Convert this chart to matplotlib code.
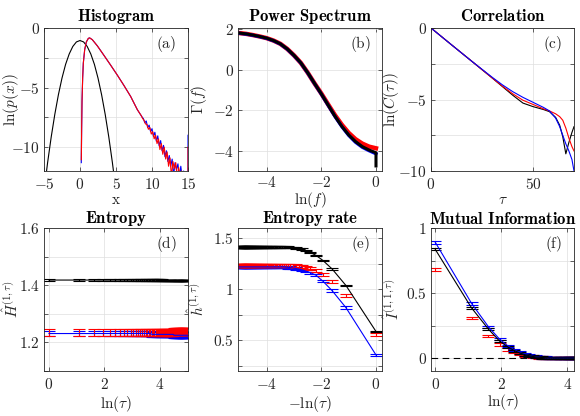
import matplotlib
matplotlib.use("Agg")
import matplotlib.pyplot as plt
import numpy as np
from matplotlib.ticker import FuncFormatter, FixedLocator

plt.rcParams['mathtext.fontset'] = 'cm'
plt.rcParams['font.family'] = 'serif'

# ---- (a) Histogram ----
hist_black_x = [-4.75, -4.5, -4, -3.5, -3, -2.5, -2, -1.5, -1, -0.5, 0, 0.5, 1, 1.5, 2, 2.5, 3, 3.5, 4, 4.5, 4.75]
hist_black_y = [-12.5, -11.3, -9.15, -7.25, -5.6, -4.2, -3.05, -2.18, -1.55, -1.17, -1.05, -1.17, -1.55, -2.18, -3.05, -4.2, -5.6, -7.25, -9.15, -11.3, -12.5]

hist_red_x = [0.185, 0.23, 0.28, 0.37, 0.46, 0.65, 0.88, 1.16, 1.34, 1.71, 2.41, 3.33, 4.26, 5.19, 6.11, 7.04, 7.96,
              8.5, 8.7, 8.9, 9.1, 9.3, 9.5, 9.7, 9.9, 10.1, 10.3, 10.5, 10.7, 10.9, 11.1, 11.3, 11.5, 11.7, 11.9,
              12.1, 12.3, 12.5, 12.7, 12.9, 13.1, 13.3, 13.5, 13.7, 13.9, 14.1, 14.3, 14.5, 14.7, 14.9, 15.0, 15.0]
hist_red_y = [-11.05, -8.4, -6.15, -4.2, -2.95, -1.82, -1.17, -0.87, -0.83, -0.98, -1.5, -2.3, -3.12, -3.96, -4.83, -5.75, -6.85,
              -7.35, -7.6, -7.75, -8.05, -8.1, -8.5, -8.35, -8.9, -8.7, -9.3, -9.0, -9.7, -9.3, -10.2, -9.7, -10.6, -10.0, -11.0,
              -10.4, -11.6, -10.9, -12.5, -11.2, -11.8, -11.3, -12.6, -11.7, -12.6, -12.0, -12.8, -12.2, -12.9, -12.9, -12.9, -10.0]

hist_blue_x = [0.18, 0.23, 0.28, 0.37, 0.46, 0.65, 0.88, 1.16, 1.34, 1.71, 2.41, 3.33, 4.26, 5.19, 6.11, 7.04, 7.96,
               8.6, 8.8, 9.0, 9.2, 9.4, 9.6, 9.8, 10.0, 10.2, 10.4, 10.6, 10.8, 11.0, 11.2, 11.4, 11.6, 11.8, 12.0,
               12.2, 12.4, 12.6, 12.8, 13.0, 13.2, 13.4, 13.6, 13.8, 14.0, 14.2, 14.4, 14.6, 14.8, 15.0, 15.0]
hist_blue_y = [-11.3, -8.4, -6.15, -4.2, -2.95, -1.82, -1.17, -0.87, -0.83, -0.98, -1.5, -2.3, -3.12, -3.96, -4.83, -5.75, -6.85,
               -7.45, -7.6, -7.95, -7.8, -8.35, -8.15, -8.7, -8.45, -9.1, -8.75, -9.5, -9.05, -9.9, -9.45, -10.3, -9.85, -10.8, -10.3,
               -11.2, -10.7, -11.6, -11.0, -12.4, -11.3, -11.9, -11.4, -12.5, -11.6, -12.6, -12.0, -12.8, -12.9, -12.9, -9.0]

# ---- (b) Power spectrum ----
spec_x = [-5.0, -4.75, -4.5, -4.25, -4.0, -3.75, -3.5, -3.25, -3.0, -2.75, -2.5, -2.25, -2.0, -1.75, -1.5, -1.25, -1.0, -0.75, -0.5, -0.25, 0.0]
spec_black = [1.80, 1.76, 1.70, 1.63, 1.55, 1.43, 1.27, 1.02, 0.70, 0.33, -0.15, -0.68, -1.20, -1.75, -2.30, -2.80, -3.22, -3.55, -3.80, -3.97, -4.10]
spec_red = [1.80, 1.76, 1.70, 1.63, 1.55, 1.43, 1.27, 1.02, 0.70, 0.33, -0.15, -0.68, -1.18, -1.72, -2.25, -2.72, -3.12, -3.43, -3.65, -3.80, -3.88]
spec_blue = [1.79, 1.75, 1.69, 1.62, 1.54, 1.42, 1.26, 1.01, 0.69, 0.32, -0.16, -0.69, -1.21, -1.76, -2.31, -2.81, -3.24, -3.58, -3.83, -4.0, -4.15]

# ---- (c) Correlation ----
corr_x = [0, 10, 20, 30, 35, 40, 45, 50, 55, 58, 61, 63, 64.5, 66, 67.5, 69, 70]
corr_black = [0, -1.17, -2.33, -3.5, -4.1, -4.7, -5.25, -5.5, -5.7, -5.85, -6.25, -6.8, -7.6, -8.8, -8.0, -7.3, -6.9]
corr_red = [0, -1.17, -2.33, -3.5, -4.07, -4.6, -5.05, -5.35, -5.65, -5.8, -6.0, -6.2, -6.45, -7.0, -7.7, -8.3, -8.6]
corr_blue = [0, -1.17, -2.33, -3.45, -3.98, -4.45, -4.85, -5.2, -5.55, -5.8, -6.3, -6.9, -7.5, -8.1, -8.6, -9.2, -10.0]

# ---- (d)-(f) vs tau ----
tau = list(range(1, 150, 2))

H_black = [1.418] * 30 + [1.417] * 20 + [1.416] * 15 + [1.415] * 10
H_red = [1.234] * 20 + [1.236] * 25 + [1.238] * 30
H_blue = [1.231] * 20 + [1.228] * 25 + [1.225] * 30

h_black = [0.587, 1.037, 1.20, 1.283, 1.332, 1.36, 1.38, 1.393, 1.400, 1.405, 1.408, 1.41, 1.411] + [1.412] * 62
h_red = [0.561, 0.94, 1.073, 1.144, 1.183, 1.20, 1.212, 1.22, 1.225, 1.228, 1.23] + [1.232] * 64
h_blue = [0.357, 0.82, 0.988, 1.08, 1.138, 1.162, 1.178, 1.19, 1.198, 1.204, 1.208, 1.212, 1.215, 1.217] + [1.219] * 61

I_black = [0.835, 0.385, 0.222, 0.13, 0.085, 0.056, 0.038, 0.026, 0.018, 0.012, 0.008, 0.006, 0.004, 0.003, 0.002, 0.001] + [0.0] * 59
I_blue = [0.89, 0.42, 0.24, 0.145, 0.093, 0.062, 0.042, 0.029, 0.02, 0.014, 0.01, 0.007, 0.005, 0.003, 0.002, 0.001] + [0.0] * 59
I_red = [0.68, 0.307, 0.17, 0.105, 0.067, 0.045, 0.03, 0.02, 0.014, 0.01, 0.007, 0.005, 0.003, 0.002, 0.001] + [0.0] * 60

err_H = {'k': 0.002, 'r': 0.012, 'b': 0.01}
err_h = {'k': 0.008, 'r': 0.015, 'b': 0.012}
err_I = {'k': 0.008, 'r': 0.01, 'b': 0.01}

fig = plt.figure(figsize=(5.8, 4.16), dpi=100)
W, Hh = 580, 416
def add_ax(l, t, w, h):
    return fig.add_axes([l / W, (Hh - t - h) / Hh, w / W, h / Hh])

ax_a = add_ax(44, 28, 144, 143)
ax_b = add_ax(238, 28, 144, 143)
ax_c = add_ax(431, 28, 143, 143)
ax_d = add_ax(44, 228, 144, 143)
ax_e = add_ax(238, 228, 144, 143)
ax_f = add_ax(431, 228, 143, 143)

fmt = FuncFormatter(lambda v, p: '$%g$' % v)
gray = '#262626'

# ylab_dx: distance (px) from the axes' left edge to the centre of the y label
def style(ax, title, xl, yl, tag, ylab_dx, xlab_dy, tpad, xpad=4):
    ax.set_title(title, fontsize=12, pad=tpad)
    ax.set_xlabel(xl, fontsize=11, color=gray, va='center')
    ax.set_ylabel(yl, fontsize=11, color=gray, va='center')
    w = ax.get_position().width * W
    h = ax.get_position().height * Hh
    ax.yaxis.set_label_coords(-ylab_dx / w, 0.5)
    ax.xaxis.set_label_coords(0.5, -xlab_dy / h)
    ax.xaxis.set_major_formatter(fmt)
    ax.yaxis.set_major_formatter(fmt)
    ax.tick_params(which='both', direction='in', top=True, right=True, length=3, width=0.5,
                   labelsize=11, colors=gray, pad=3)
    ax.tick_params(axis='x', pad=xpad)
    ax.grid(True, which='both', color='#dedede', lw=0.5)
    ax.set_axisbelow(True)
    for s in ax.spines.values():
        s.set_color(gray)
        s.set_linewidth(0.6)
    ax.text(0.92, 0.89, tag, transform=ax.transAxes, ha='right', va='center', fontsize=11, color=gray)

# (a)
ax_a.plot(hist_black_x, hist_black_y, color='k', lw=0.8)
ax_a.plot(hist_blue_x, hist_blue_y, color='b', lw=0.8)
ax_a.plot(hist_red_x, hist_red_y, color='r', lw=0.8)
ax_a.set_xlim(-5, 15)
ax_a.set_ylim(-12, 0)
ax_a.xaxis.set_major_locator(FixedLocator([-5, 0, 5, 10, 15]))
ax_a.yaxis.set_major_locator(FixedLocator([-10, -5, 0]))
ax_a.yaxis.set_minor_locator(FixedLocator([-7.5, -2.5]))
style(ax_a, r'$\mathbf{Histogram}$', r'$\mathrm{x}$', r'$\ln(p(x))$', r'$\mathrm{(a)}$', 33, 29, 5)

# (b)
ax_b.plot(spec_x, spec_red, color='r', lw=3.2)
ax_b.plot(spec_x, spec_blue, color='b', lw=2.4)
ax_b.plot(spec_x + [0.0], spec_black + [-4.75], color='k', lw=2.2)
ax_b.set_xlim(-5.05, 0.22)
ax_b.set_ylim(-5, 2.05)
ax_b.xaxis.set_major_locator(FixedLocator([-4, -2, 0]))
ax_b.yaxis.set_major_locator(FixedLocator([-4, -2, 0, 2]))
style(ax_b, r'$\mathbf{Power\ Spectrum}$', r'$\ln(f)$', r'$\Gamma(f)$', r'$\mathrm{(b)}$', 39, 28.5, 5, xpad=3)

# (c)
ax_c.plot(corr_x, corr_black, color='k', lw=0.8)
ax_c.plot(corr_x, corr_red, color='r', lw=0.8)
ax_c.plot(corr_x, corr_blue, color='b', lw=0.8)
ax_c.set_xlim(0, 70)
ax_c.set_ylim(-10, 0)
ax_c.xaxis.set_major_locator(FixedLocator([0, 50]))
ax_c.yaxis.set_major_locator(FixedLocator([-10, -5, 0]))
ax_c.yaxis.set_minor_locator(FixedLocator([-7.5, -2.5]))
style(ax_c, r'$\mathbf{Correlation}$', r'$\tau$', r'$\ln(C(\tau))$', r'$\mathrm{(c)}$', 40, 29, 5)

lnt = np.log(tau)
eb = dict(capsize=4, capthick=0.8, elinewidth=0.8)

# (d)
ax_d.errorbar(lnt, H_blue, yerr=err_H['b'], color='b', lw=0.8, **eb)
ax_d.errorbar(lnt, H_red, yerr=err_H['r'], color='r', ls='none', **eb)
ax_d.errorbar(lnt, H_black, yerr=err_H['k'], color='k', lw=0.8, **eb)
ax_d.set_xlim(-0.18, 5.02)
ax_d.set_ylim(1.1, 1.6)
ax_d.xaxis.set_major_locator(FixedLocator([0, 2, 4]))
ax_d.yaxis.set_major_locator(FixedLocator([1.2, 1.4, 1.6]))
ax_d.yaxis.set_minor_locator(FixedLocator([1.1, 1.3, 1.5]))
style(ax_d, r'$\mathbf{Entropy}$', r'$\ln(\tau)$', r'$\hat{H}^{(1,\tau)}$', r'$\mathrm{(d)}$', 33, 33, 3)

# (e)
ax_e.errorbar(-lnt, h_blue, yerr=err_h['b'], color='b', lw=0.8, **eb)
ax_e.errorbar(-lnt, h_red, yerr=err_h['r'], color='r', ls='none', **eb)
ax_e.errorbar(-lnt, h_black, yerr=err_h['k'], color='k', lw=0.8, **eb)
ax_e.set_xlim(-5.05, 0.22)
ax_e.set_ylim(0.2, 1.6)
ax_e.xaxis.set_major_locator(FixedLocator([-4, -2, 0]))
ax_e.yaxis.set_major_locator(FixedLocator([0.5, 1, 1.5]))
ax_e.yaxis.set_minor_locator(FixedLocator([0.25, 0.75, 1.25]))
style(ax_e, r'$\mathbf{Entropy\ rate}$', r'$-\ln(\tau)$', r'$\hat{h}^{(1,\tau)}$', r'$\mathrm{(e)}$', 41, 33, 3)

# (f)
ax_f.axhline(0, color='k', ls=(0, (6, 4)), lw=0.8)
ax_f.errorbar(lnt, I_red, yerr=err_I['r'], color='r', ls='none', **eb)
ax_f.errorbar(lnt, I_blue, yerr=err_I['b'], color='b', lw=0.8, **eb)
ax_f.errorbar(lnt, I_black, yerr=err_I['k'], color='k', lw=0.8, **eb)
ax_f.set_xlim(-0.13, 4.2)
ax_f.set_ylim(-0.1, 1.0)
ax_f.xaxis.set_major_locator(FixedLocator([0, 2, 4]))
ax_f.yaxis.set_major_locator(FixedLocator([0, 0.5, 1]))
ax_f.yaxis.set_minor_locator(FixedLocator([0.25, 0.75]))
style(ax_f, r'$\mathbf{Mutual\ Information}$', r'$\ln(\tau)$', r'$\hat{I}^{(1,1,\tau)}$', r'$\mathrm{(f)}$', 39, 31, 3)

fig.savefig('out.png', dpi=100)
